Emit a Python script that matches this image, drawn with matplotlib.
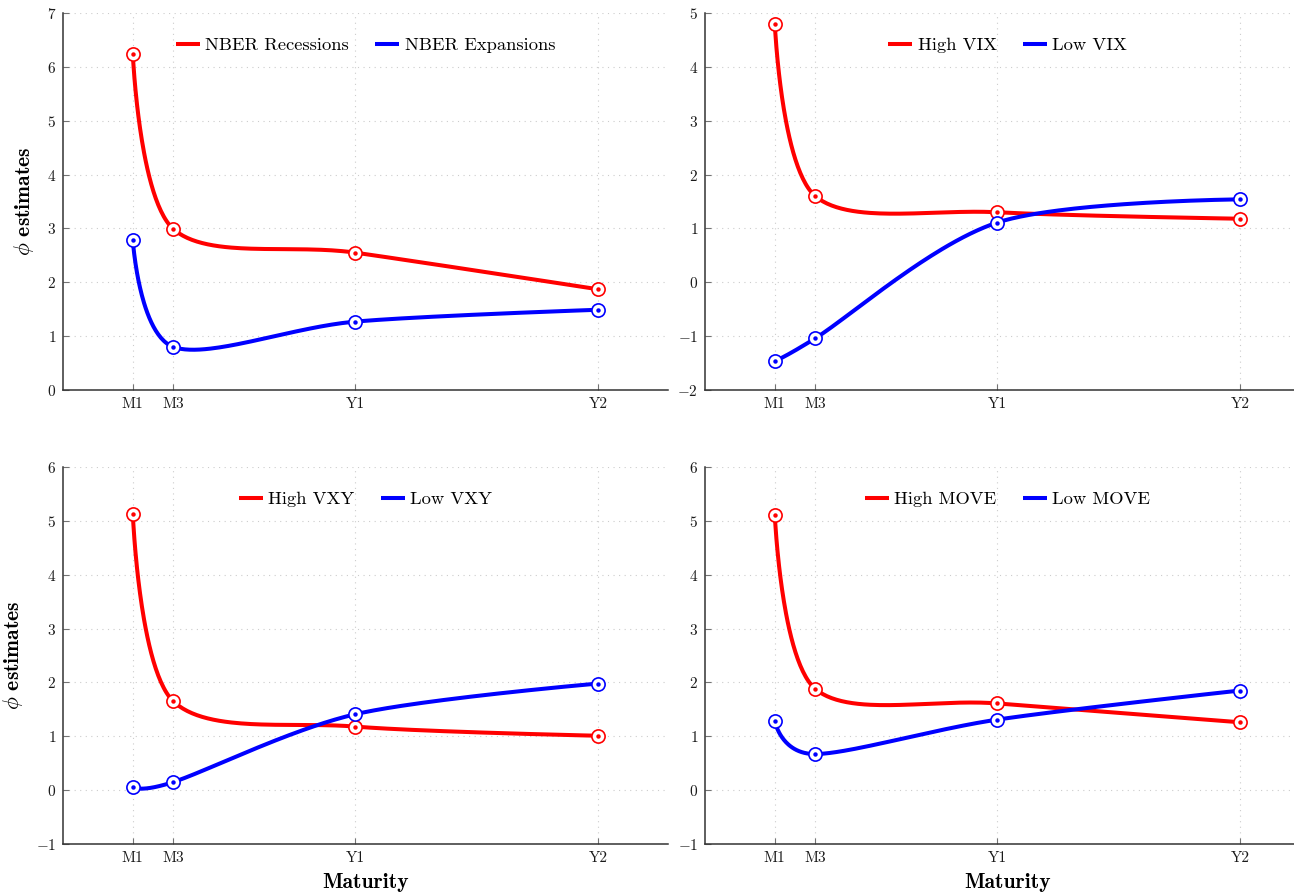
import numpy as np
import matplotlib
matplotlib.use("Agg")
import matplotlib.pyplot as plt

plt.rcParams['font.family'] = 'serif'
plt.rcParams['font.serif'] = ['cmr10']
plt.rcParams['mathtext.fontset'] = 'cm'
plt.rcParams['axes.formatter.use_mathtext'] = True

# ---- data ----
maturity_months = [1, 3, 12, 24]
maturity_labels = ['M1', 'M3', 'Y1', 'Y2']

titles_high = ['NBER Recessions', 'High VIX', 'High VXY', 'High MOVE']
titles_low = ['NBER Expansions', 'Low VIX', 'Low VXY', 'Low MOVE']

nber_rec = [6.24, 2.99, 2.55, 1.87]
nber_exp = [2.78, 0.80, 1.27, 1.49]
vix_high = [4.80, 1.60, 1.30, 1.18]
vix_low = [-1.46, -1.04, 1.11, 1.54]
vxy_high = [5.13, 1.65, 1.18, 1.01]
vxy_low = [0.06, 0.15, 1.41, 1.98]
move_high = [5.11, 1.88, 1.61, 1.26]
move_low = [1.28, 0.67, 1.31, 1.85]

high_series = [nber_rec, vix_high, vxy_high, move_high]
low_series = [nber_exp, vix_low, vxy_low, move_low]
ylims = [(0, 7), (-2, 5), (-1, 6), (-1, 6)]


def pgf_smooth(xs, ys, tension=0.55, n=60):
    """Replicates TikZ/pgfplots 'smooth' curve (cubic Bezier, tension)."""
    f = 0.2775 * tension
    P = np.column_stack([xs, ys]).astype(float)
    m = len(P)
    segs = []
    for i in range(m - 1):
        p0 = P[i]
        p3 = P[i + 1]
        if i == 0:
            c1 = p0
        else:
            c1 = p0 + f * (P[i + 1] - P[i - 1])
        if i + 1 == m - 1:
            c2 = p3
        else:
            c2 = p3 - f * (P[i + 2] - P[i])
        t = np.linspace(0, 1, n)[:, None]
        B = ((1 - t) ** 3) * p0 + 3 * ((1 - t) ** 2) * t * c1 + 3 * (1 - t) * t ** 2 * c2 + t ** 3 * p3
        segs.append(B if i == 0 else B[1:])
    C = np.vstack(segs)
    return C[:, 0], C[:, 1]


W, H = 1294, 896
fig = plt.figure(figsize=(W / 100, H / 100), dpi=100)

ax_w = 605 / W
ax_h = 377 / H
lefts = [63 / W, 705 / W]
bottoms = [1 - 390 / H, 1 - 844 / H]

spine_c = '0.2'
for k in range(4):
    r, c = divmod(k, 2)
    ax = fig.add_axes([lefts[c], bottoms[r], ax_w, ax_h])
    for sp in ['top', 'right']:
        ax.spines[sp].set_visible(False)
    for sp in ['left', 'bottom']:
        ax.spines[sp].set_color(spine_c)
        ax.spines[sp].set_linewidth(1.1)
    ax.set_xlim(1 - 0.15 * 23, 24 + 0.15 * 23)
    ax.set_ylim(*ylims[k])
    ax.set_yticks(np.arange(ylims[k][0], ylims[k][1] + 1))
    ax.set_xticks(maturity_months)
    ax.set_xticklabels(maturity_labels)
    ax.tick_params(direction='in', length=4, width=0.8, color='0.45',
                   labelsize=11, labelcolor='0.1', pad=5)
    ax.grid(True, linestyle=(0, (1, 4)), color='0.8', linewidth=0.8)
    ax.set_axisbelow(True)

    for ys, col, lab in [(high_series[k], 'red', titles_high[k]),
                         (low_series[k], 'blue', titles_low[k])]:
        sx, sy = pgf_smooth(maturity_months, ys)
        ax.plot(sx, sy, color=col, lw=2.9, label=lab, solid_capstyle='butt', zorder=3)
        ax.plot(maturity_months, ys, linestyle='none', marker='o', ms=9.5,
                mfc='white', mec=col, mew=1.2, zorder=4)
        ax.plot(maturity_months, ys, linestyle='none', marker='o', ms=3.2,
                mfc=col, mec=col, mew=0, zorder=5)

    ax.legend(loc='center', bbox_to_anchor=(0.5, 0.915), ncol=2, frameon=False,
              fontsize=13.3, handlelength=1.3, handletextpad=0.3, columnspacing=1.4)

    if c == 0:
        ax.set_ylabel(r'$\phi$ estimates', fontname='cmb10', fontsize=15.5, labelpad=8)
    if r == 1:
        ax.set_xlabel('Maturity', fontname='cmb10', fontsize=15.5, labelpad=6)

fig.savefig('out.png', dpi=100)
